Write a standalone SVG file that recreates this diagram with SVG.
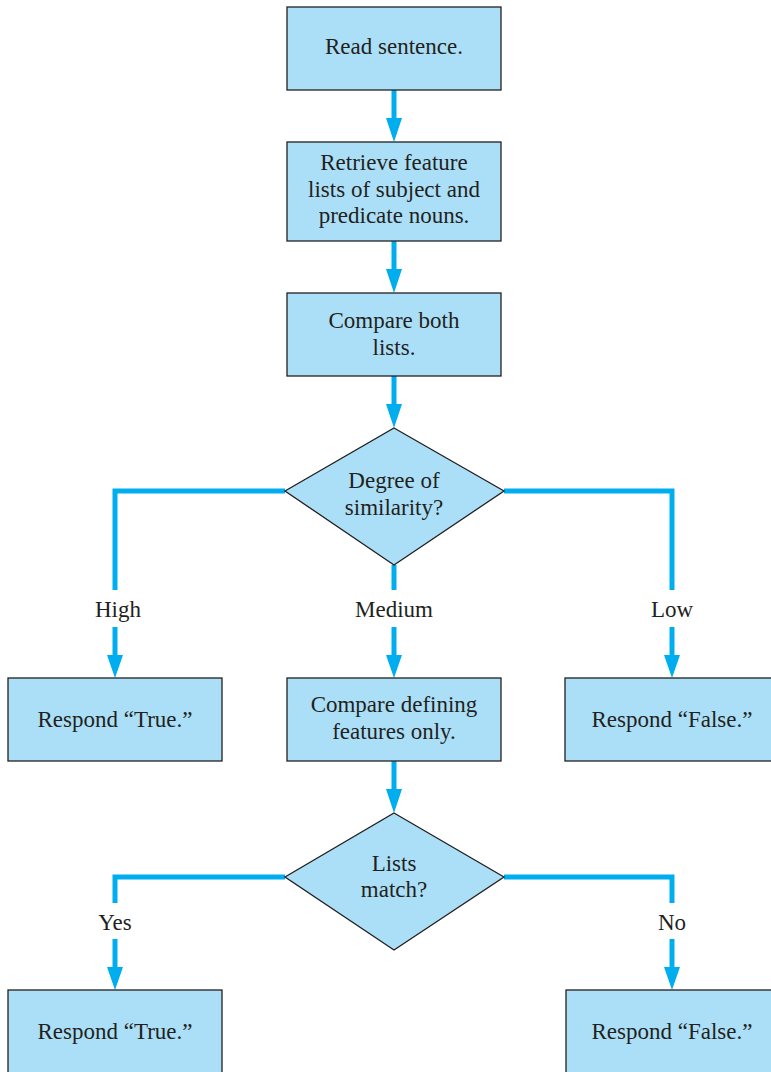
<svg xmlns="http://www.w3.org/2000/svg" width="771" height="1072" viewBox="0 0 771 1072">
  <style>
    .box { fill: #abdff8; stroke: #231f20; stroke-width: 1.3; }
    .lbl { font-family: "Liberation Serif", "DejaVu Serif", serif; font-size: 23px; fill: #231f20; text-anchor: middle; }
    .edge { fill: none; stroke: #00aeef; stroke-width: 5; }
    .head { fill: #00aeef; }
  </style>
  <rect width="771" height="1072" fill="#ffffff"/>

  <g id="connectors">
    <!-- straight flow down the middle column -->
    <line class="edge" x1="394" y1="90" x2="394" y2="118"/>
    <path class="head" d="M386,118 L402,118 L394,142 Z"/>
    <line class="edge" x1="394" y1="241" x2="394" y2="269"/>
    <path class="head" d="M386,269 L402,269 L394,293 Z"/>
    <line class="edge" x1="394" y1="376" x2="394" y2="404"/>
    <path class="head" d="M386,404 L402,404 L394,428 Z"/>

    <!-- similarity branches -->
    <polyline class="edge" points="285,491 115,491 115,590"/>
    <line class="edge" x1="115" y1="627" x2="115" y2="655"/>
    <path class="head" d="M107,655 L123,655 L115,678 Z"/>
    <line class="edge" x1="394" y1="565" x2="394" y2="590"/>
    <line class="edge" x1="394" y1="627" x2="394" y2="655"/>
    <path class="head" d="M386,655 L402,655 L394,678 Z"/>
    <polyline class="edge" points="504,491 672,491 672,590"/>
    <line class="edge" x1="672" y1="627" x2="672" y2="655"/>
    <path class="head" d="M664,655 L680,655 L672,678 Z"/>

    <!-- defining features -->
    <line class="edge" x1="394" y1="761" x2="394" y2="789"/>
    <path class="head" d="M386,789 L402,789 L394,813 Z"/>

    <!-- match branches -->
    <polyline class="edge" points="285,877 115,877 115,903"/>
    <line class="edge" x1="115" y1="939" x2="115" y2="967"/>
    <path class="head" d="M107,967 L123,967 L115,990 Z"/>
    <polyline class="edge" points="504,877 672,877 672,903"/>
    <line class="edge" x1="672" y1="939" x2="672" y2="967"/>
    <path class="head" d="M664,967 L680,967 L672,990 Z"/>

    <text class="lbl" x="118" y="617">High</text>
    <text class="lbl" x="394" y="617">Medium</text>
    <text class="lbl" x="672" y="617">Low</text>
    <text class="lbl" x="115" y="930">Yes</text>
    <text class="lbl" x="672" y="930">No</text>
  </g>

  <g id="read">
    <rect class="box" x="287" y="7" width="214" height="83"/>
    <text class="lbl" x="394" y="54">Read sentence.</text>
  </g>
  <g id="retrieve">
    <rect class="box" x="287" y="142" width="214" height="99"/>
    <text class="lbl" x="394" y="170">Retrieve feature</text>
    <text class="lbl" x="394" y="197">lists of subject and</text>
    <text class="lbl" x="394" y="223">predicate nouns.</text>
  </g>
  <g id="compare">
    <rect class="box" x="287" y="293" width="214" height="83"/>
    <text class="lbl" x="394" y="328">Compare both</text>
    <text class="lbl" x="394" y="355">lists.</text>
  </g>
  <g id="similarity">
    <polygon class="box" points="394,428 504,491 394,565 285,491"/>
    <text class="lbl" x="394" y="488">Degree of</text>
    <text class="lbl" x="394" y="515">similarity?</text>
  </g>
  <g id="true-high">
    <rect class="box" x="8" y="678" width="214" height="83"/>
    <text class="lbl" x="115" y="727">Respond “True.”</text>
  </g>
  <g id="defining">
    <rect class="box" x="287" y="678" width="214" height="83"/>
    <text class="lbl" x="394" y="712">Compare defining</text>
    <text class="lbl" x="394" y="739">features only.</text>
  </g>
  <g id="false-low">
    <rect class="box" x="565" y="678" width="214" height="83"/>
    <text class="lbl" x="672" y="727">Respond “False.”</text>
  </g>
  <g id="match">
    <polygon class="box" points="394,813 504,877 394,950 285,877"/>
    <text class="lbl" x="394" y="871">Lists</text>
    <text class="lbl" x="394" y="897">match?</text>
  </g>
  <g id="true-yes">
    <rect class="box" x="8" y="990" width="214" height="100"/>
    <text class="lbl" x="115" y="1039">Respond “True.”</text>
  </g>
  <g id="false-no">
    <rect class="box" x="566" y="990" width="214" height="100"/>
    <text class="lbl" x="672" y="1039">Respond “False.”</text>
  </g>
</svg>
